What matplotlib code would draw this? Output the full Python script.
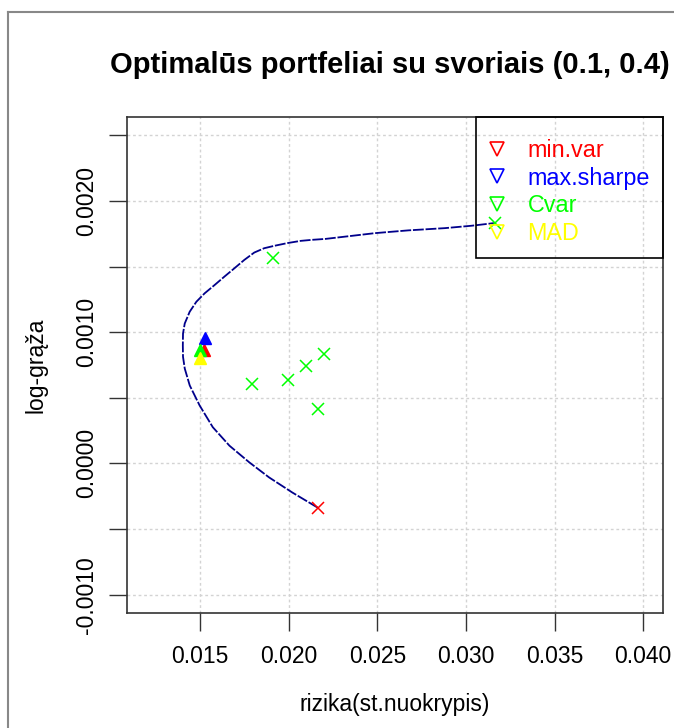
import matplotlib
matplotlib.use("Agg")
import matplotlib.pyplot as plt
from matplotlib.lines import Line2D
from matplotlib.patches import Rectangle
import numpy as np

plt.rcParams['font.family'] = ['Liberation Sans', 'DejaVu Sans']

# Efficient frontier (risk, log-return)
frontier_risk = [0.02165, 0.02021, 0.01890, 0.01778, 0.01666, 0.01572, 0.01498,
                 0.01442, 0.01414, 0.01404, 0.01403, 0.01404, 0.014137, 0.014417,
                 0.014793, 0.015258, 0.015818, 0.016379, 0.016939, 0.017500, 0.018060,
                 0.018621, 0.019181, 0.019927, 0.020678, 0.021328, 0.02208, 0.02488,
                 0.02675, 0.02881, 0.03030, 0.03163]
frontier_ret = [-0.000338, -0.000222, -0.000107, 0.000008, 0.000135, 0.000276, 0.000441,
                0.000594, 0.000722, 0.000812, 0.000900, 0.000990, 0.001066, 0.001156,
                0.001232, 0.001296, 0.001359, 0.001424, 0.001487, 0.001551, 0.001607,
                0.001640, 0.001658, 0.001679, 0.001696, 0.001704, 0.001711, 0.001755,
                0.001776, 0.001793, 0.001811, 0.001832]

# Individual assets
asset_risk = [0.02165, 0.01793, 0.01995, 0.02096, 0.02197, 0.02166, 0.01909, 0.03163]
asset_ret = [-0.000338, 0.000609, 0.000635, 0.000745, 0.000831, 0.000418, 0.001569, 0.001832]
asset_colors = ['#FF0000', '#00FF00', '#00FF00', '#00FF00', '#00FF00', '#00FF00', '#00FF00', '#00FF00']

# Optimal portfolios
port_names = ['min.var', 'max.sharpe', 'Cvar', 'MAD']
port_risk = [0.01522, 0.01526, 0.01498, 0.01502]
port_ret = [0.000867, 0.000959, 0.000867, 0.000804]
port_colors = ['#FF0000', '#0000FF', '#00FF00', '#FFFF00']

x_ticks = [0.015, 0.020, 0.025, 0.030, 0.035, 0.040]
x_ticklabels = ['0.015', '0.020', '0.025', '0.030', '0.035', '0.040']
y_ticks = [-0.0010, -0.0005, 0.0, 0.0005, 0.0010, 0.0015, 0.0020, 0.0025]
y_ticklabels = ['-0.0010', '', '0.0000', '', '0.0010', '', '0.0020', '']

W, H = 674, 728
fig = plt.figure(figsize=(W / 100, H / 100), dpi=100)
ax = fig.add_axes([127 / W, (H - 613) / H, 536 / W, 496 / H])

xlim = (0.012, 0.040)
ylim = (-0.001, 0.0025)
dx = (xlim[1] - xlim[0]) * 0.04
dy = (ylim[1] - ylim[0]) * 0.04
ax.set_xlim(xlim[0] - dx, xlim[1] + dx)
ax.set_ylim(ylim[0] - dy, ylim[1] + dy)

for xv in x_ticks:
    ax.axvline(xv, color='#d3d3d3', lw=1, ls=(0, (2, 2)), zorder=0)
for yv in y_ticks:
    ax.axhline(yv, color='#d3d3d3', lw=1, ls=(0, (2, 2)), zorder=0)

ax.plot(frontier_risk, frontier_ret, color='#00008B', lw=1.3, ls=(0, (6, 1)), zorder=2)

for xr, yr, c in zip(asset_risk, asset_ret, asset_colors):
    ax.plot(xr, yr, marker='x', color=c, ms=8, mew=1.1, ls='none', zorder=3)

for xr, yr, c in zip(port_risk, port_ret, port_colors):
    ax.plot(xr, yr, marker='^', color=c, ms=9, ls='none', zorder=4)

ax.set_xticks(x_ticks)
ax.set_xticklabels(x_ticklabels)
ax.set_yticks(y_ticks)
ax.set_yticklabels(y_ticklabels, rotation=90, va='center')
ax.tick_params(axis='both', direction='out', length=13, width=1, color='#333333',
               labelsize=16.5, pad=10)
ax.tick_params(axis='y', pad=8)
for sp in ax.spines.values():
    sp.set_color('#333333')
    sp.set_linewidth(1.2)

ax.set_xlabel('rizika(st.nuokrypis)', fontsize=16.5, labelpad=18)
ax.set_ylabel('log-grąža', fontsize=16.5, labelpad=20)
fig.text(390 / W, 1 - 65 / H, 'Optimalūs portfeliai su svoriais (0.1, 0.4)', fontsize=21,
         fontweight='bold', ha='center', va='center')

# legend frame (transparent background, like R's default)
ax.add_patch(Rectangle(((476 - 127) / 536, (613 - 258) / 496), 1 - (476 - 127) / 536,
                       1 - (613 - 258) / 496, transform=ax.transAxes, fill=False,
                       edgecolor='black', lw=1.2, zorder=5, clip_on=False))

handles = [Line2D([], [], marker='v', color=c, markerfacecolor='none', ms=10, mew=1.2,
                  ls='none') for c in port_colors]
leg = ax.legend(handles, port_names, loc='upper left',
                bbox_to_anchor=((485.5 - 127) / 536, (613 - 139) / 496),
                borderaxespad=0, borderpad=0, frameon=False,
                fontsize=16.8, handlelength=1.0, handletextpad=0.8, labelspacing=0.2,
                labelcolor=port_colors)

# screenshot frame
fig.add_artist(Line2D([8 / W, 1], [1 - 12 / H, 1 - 12 / H], color='#888888', lw=1.5,
                      transform=fig.transFigure))
fig.add_artist(Line2D([8 / W, 8 / W], [0, 1 - 12 / H], color='#888888', lw=1.5,
                      transform=fig.transFigure))

fig.savefig('out.png', dpi=100)
